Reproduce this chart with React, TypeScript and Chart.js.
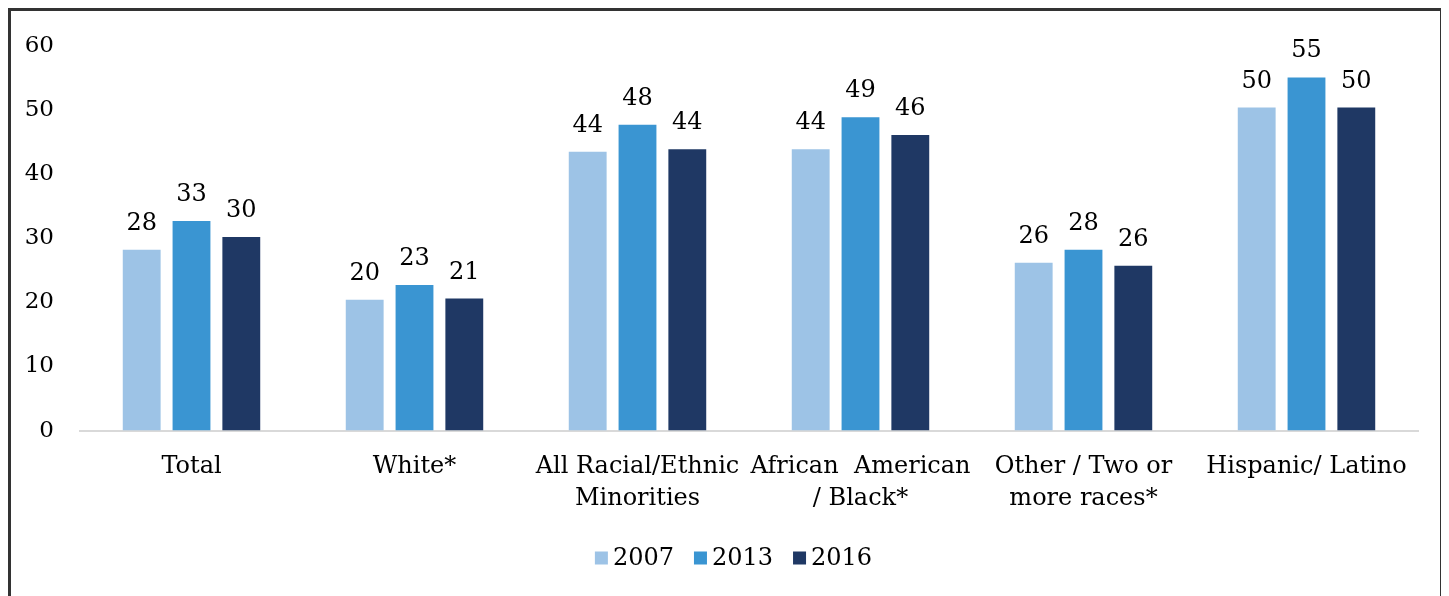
import React, { useEffect, useRef } from "react";
import { Chart, registerables } from "chart.js";

Chart.register(...registerables);

const categories: (string | string[])[] = [
  "Total",
  "White*",
  ["All Racial/Ethnic", "Minorities"],
  ["African  American", "/ Black*"],
  ["Other / Two or", "more races*"],
  "Hispanic/ Latino",
];
const seriesNames = ["2007", "2013", "2016"];
const values2007 = [28.2, 20.4, 43.5, 43.9, 26.2, 50.4];
const values2013 = [32.7, 22.7, 47.7, 48.9, 28.2, 55.1];
const values2016 = [30.2, 20.6, 43.9, 46.1, 25.7, 50.4];
const colors = ["#9DC3E6", "#3A95D2", "#1F3864"];
const yTicks = [0, 10, 20, 30, 40, 50, 60];

const FONT = "'DejaVu Serif', serif";

const labelPlugin = {
  id: "barLabels",
  afterDatasetsDraw(chart: any) {
    const ctx = chart.ctx;
    ctx.save();
    ctx.font = `24px ${FONT}`;
    ctx.fillStyle = "#000";
    ctx.textAlign = "center";
    ctx.textBaseline = "alphabetic";
    chart.data.datasets.forEach((ds: any, i: number) => {
      const meta = chart.getDatasetMeta(i);
      meta.data.forEach((el: any, j: number) => {
        ctx.fillText(String(Math.round(ds.data[j])), el.x, el.y - 20);
      });
    });
    ctx.restore();
  },
};

const legendPlugin = {
  id: "customLegend",
  afterDraw(chart: any) {
    const ctx = chart.ctx;
    ctx.save();
    ctx.font = `24px ${FONT}`;
    ctx.textBaseline = "middle";
    ctx.textAlign = "left";
    const box = 13;
    const gapBoxText = 5;
    const gapItems = 20;
    const items = chart.data.datasets.map((ds: any) => ({
      label: ds.label,
      color: ds.backgroundColor,
      w: ctx.measureText(ds.label).width,
    }));
    const total =
      items.reduce((s: number, it: any) => s + box + gapBoxText + it.w, 0) +
      gapItems * (items.length - 1);
    let x = chart.width / 2 + 8 - total / 2;
    const y = chart.height - 37;
    items.forEach((it: any) => {
      ctx.fillStyle = it.color;
      ctx.fillRect(x, y - box / 2 - 1, box, box);
      x += box + gapBoxText;
      ctx.fillStyle = "#000";
      ctx.fillText(it.label, x, y);
      x += it.w + gapItems;
    });
    ctx.restore();
  },
};

export default function App() {
  const ref = useRef<HTMLCanvasElement | null>(null);
  useEffect(() => {
    if (!ref.current) return;
    const seriesData = [values2007, values2013, values2016];
    const chart = new Chart(ref.current, {
      type: "bar",
      data: {
        labels: categories,
        datasets: seriesNames.map((n, i) => ({
          label: n,
          data: seriesData[i],
          backgroundColor: colors[i],
          categoryPercentage: 0.67,
          barPercentage: 0.76,
        })),
      },
      options: {
        animation: false,
        responsive: true,
        maintainAspectRatio: false,
        layout: { padding: { top: 35, right: 22, left: 0, bottom: 61 } },
        plugins: {
          tooltip: { enabled: false },
          legend: { display: false },
        },
        scales: {
          x: {
            grid: { display: false, drawTicks: false },
            border: { color: "#D9D9D9", width: 2 },
            ticks: {
              color: "#000",
              font: { family: FONT, size: 24, lineHeight: 1.3 },
              maxRotation: 0,
              autoSkip: false,
              padding: 21,
            },
          },
          y: {
            min: 0,
            max: 60,
            afterBuildTicks: (axis: any) => {
              axis.ticks = yTicks.map((v) => ({ value: v }));
            },
            afterFit: (axis: any) => {
              axis.width = 69;
              axis.paddingTop = 0;
            },
            grid: { display: false, drawTicks: false },
            border: { display: false },
            ticks: {
              color: "#000",
              font: { family: FONT, size: 23 },
              padding: 26,
            },
          },
        },
      },
      plugins: [labelPlugin, legendPlugin],
    });
    return () => chart.destroy();
  }, []);
  return (
    <div
      style={{
        width: 1435,
        height: 620,
        border: "3px solid #333",
        boxSizing: "border-box",
        background: "#fff",
      }}
    >
      <div style={{ width: 1429, height: 585, position: "relative" }}>
        <canvas ref={ref} />
      </div>
    </div>
  );
}
